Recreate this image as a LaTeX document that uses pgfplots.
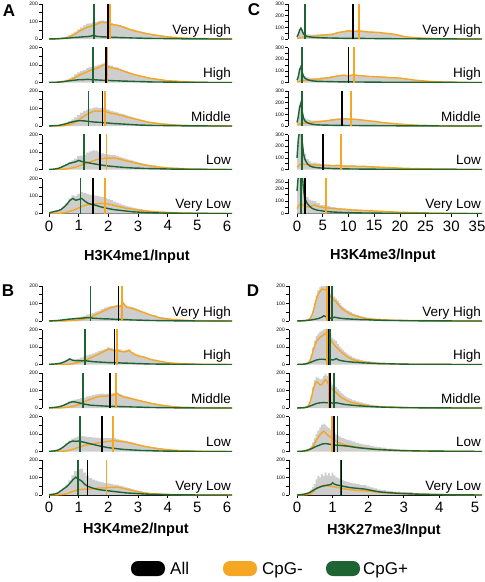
\documentclass[border=0pt]{standalone}
\usepackage{fontspec}
\setmainfont{Liberation Sans}
\usepackage{pgfplots}
\pgfplotsset{compat=1.18}
\usepackage{pgfplotstable}
\definecolor{corange}{RGB}{245,166,35}
\definecolor{cgreen}{RGB}{30,100,50}
\definecolor{cgray}{RGB}{206,206,206}

\pgfplotsset{
 rowax/.style={scale only axis, height=35pt, anchor=south west,
   axis x line*=bottom, axis y line*=left, axis line style={-, line width=0.6pt},
   tick align=outside, major tick length=3pt, tick style={line width=0.6pt, black},
   ymin=0, ytick={0,50,...,200}, yticklabels={0,,100,,200},
   yticklabel style={font=\fontsize{5}{5}\selectfont, inner sep=1pt},
   xtick=\empty, x axis line style={draw=none},
   /pgf/number format/assume math mode=true},
 axA/.style={rowax, width=190pt, xmin=-0.236, xmax=6.168, ymax=200},
 axC/.style={rowax, width=194pt, xmin=-1.75, xmax=35.97, ymax=300,
   ytick={0,50,...,300}, yticklabels={0,,100,,200,,300}},
 axCe/.style={rowax, width=194pt, xmin=-1.75, xmax=35.97, ymax=280,
   ytick={0,50,...,250}, yticklabels={0,,100,,200,250}},
 axD/.style={rowax, width=193pt, xmin=-0.225, xmax=5.197, ymax=200},
 botA/.style={xtick={0,...,6}, x axis line style={draw, shorten <=7pt, shorten >=5pt},
   xticklabel style={font=\fontsize{15}{15}\selectfont, yshift=-0.5pt}},
 botC/.style={xtick={0,5,...,35}, x axis line style={draw, shorten <=9pt, shorten >=5pt},
   xticklabel style={font=\fontsize{15}{15}\selectfont, yshift=-0.5pt}},
 botD/.style={xtick={0,...,5}, x axis line style={draw, shorten <=8pt, shorten >=7pt},
   xticklabel style={font=\fontsize{15}{15}\selectfont, yshift=-0.5pt}},
}

\newcommand\prow[7]{%
\begin{axis}[#1, at={#2}]
\addplot[const plot mark mid, fill=cgray, draw=none] table[x=x,y=g]{#3} \closedcycle;
\addplot[corange, line width=1.4pt] table[x=x,y=o]{#3};
\addplot[cgreen, line width=1.4pt] table[x=x,y=c]{#3};
\addplot[corange, line width=1.8pt] coordinates {(#6,0) (#6,400)};
\addplot[black, line width=1.8pt] coordinates {(#5,0) (#5,400)};
\addplot[cgreen, line width=1.8pt] coordinates {(#7,0) (#7,400)};
\node[anchor=base east, inner sep=0pt, font=\fontsize{13.5}{13.5}\selectfont] at (rel axis cs:0.995,0.14) {#4};
\end{axis}}

% ---------------- Panel A ----------------
\pgfplotstableread{
x g o c
0 0 0 0
0.1 1 0 1
0.2 1 0 1
0.3 3 1 2
0.4 5 2 3
0.5 8 4 4
0.6 14 8 5
0.7 22 14 6
0.8 32 22 8
0.9 42 30 9
1.0 55 42 10
1.1 66 52 12
1.2 78 60 13
1.3 88 68 14
1.4 90 72 16
1.5 96 78 22
1.6 98 84 15
1.7 104 92 14
1.8 106 96 12
1.9 104 94 12
2.0 100 90 11
2.1 92 84 10
2.2 86 80 9
2.3 84 78 9
2.4 80 74 8
2.5 74 68 8
2.6 68 62 7
2.7 60 56 7
2.8 56 50 6
2.9 52 46 6
3.0 46 42 5
3.1 42 38 5
3.2 38 34 4
3.3 34 30 4
3.4 30 28 4
3.5 26 24 3
3.75 20 18 3
4.0 14 12 2
4.25 10 9 2
4.5 7 6 1
4.75 5 4 1
5.0 3 3 1
5.5 1 1 0
6.2 0 0 0
}\tAa
\pgfplotstableread{
x g o c
0 0 0 0
0.1 1 0 1
0.2 1 0 1
0.3 3 1 2
0.4 6 2 4
0.5 10 4 6
0.6 16 8 8
0.7 24 14 10
0.8 34 22 12
0.9 46 30 14
1.0 58 40 16
1.1 66 48 16
1.2 72 54 17
1.3 82 62 18
1.4 88 70 17
1.5 92 76 16
1.6 96 80 15
1.7 102 88 14
1.8 108 96 13
1.9 112 104 12
2.0 100 88 12
2.1 96 84 11
2.2 90 80 10
2.3 86 78 10
2.4 80 72 9
2.5 74 66 8
2.6 66 60 8
2.7 60 54 7
2.8 54 48 7
2.9 48 44 6
3.0 44 40 6
3.1 40 36 5
3.2 36 32 5
3.3 32 28 4
3.4 28 24 4
3.5 24 22 3
3.75 18 16 3
4.0 12 10 2
4.25 9 8 2
4.5 6 5 1
4.75 3 3 1
5.0 2 1 1
5.5 1 0 0
6.2 0 0 0
}\tAb
\pgfplotstableread{
x g o c
0 0 0 0
0.1 1 0 1
0.2 2 0 2
0.3 4 1 3
0.4 7 1 6
0.5 12 2 10
0.6 18 4 14
0.7 28 8 20
0.8 38 14 24
0.9 50 22 28
1.0 64 34 30
1.1 76 46 30
1.2 86 58 29
1.3 94 68 27
1.4 100 76 25
1.5 104 84 23
1.6 106 86 22
1.7 104 84 21
1.8 104 86 20
1.9 98 82 18
2.0 94 78 17
2.1 86 72 15
2.2 82 70 14
2.3 78 66 13
2.4 72 62 12
2.5 68 58 11
2.6 62 52 10
2.7 56 48 9
2.8 52 44 8
2.9 46 40 7
3.0 42 36 6
3.1 36 32 5
3.2 32 28 5
3.3 28 24 4
3.4 24 21 4
3.5 21 18 3
3.75 15 13 3
4.0 10 9 2
4.25 7 6 2
4.5 5 4 1
4.75 3 3 1
5.0 2 2 1
5.5 1 1 0
6.2 0 0 0
}\tAc
\pgfplotstableread{
x g o c
0 0 0 0
0.1 1 0 1
0.2 3 0 3
0.3 6 0 6
0.4 13 1 12
0.5 22 2 20
0.6 32 4 28
0.7 44 6 36
0.8 52 10 40
0.9 62 14 44
1.0 76 20 52
1.1 80 26 46
1.2 84 32 42
1.3 96 38 40
1.4 104 44 36
1.5 110 50 33
1.6 108 56 30
1.7 100 60 27
1.8 92 62 25
1.9 88 64 22
2.0 86 66 20
2.1 82 64 18
2.2 84 66 17
2.3 78 62 15
2.4 72 58 14
2.5 66 54 12
2.6 62 50 11
2.7 56 46 10
2.8 52 42 9
2.9 46 38 8
3.0 42 34 8
3.1 38 30 7
3.2 34 27 6
3.3 30 24 6
3.4 26 21 5
3.5 23 18 5
3.75 17 13 4
4.0 12 9 3
4.25 9 7 2
4.5 7 5 2
4.75 4 3 1
5.0 3 2 1
5.5 1 1 0
6.2 0 0 0
}\tAd
\pgfplotstableread{
x g o c
0 2 0 2
0.1 8 0 8
0.2 12 0 12
0.3 17 1 16
0.4 24 2 22
0.5 40 4 36
0.6 60 8 52
0.7 86 12 74
0.8 104 18 86
0.9 100 24 76
1.0 112 32 80
1.1 124 40 86
1.2 118 46 72
1.3 112 50 60
1.4 106 52 54
1.5 104 54 50
1.6 102 56 46
1.7 98 58 40
1.8 94 58 36
1.9 88 56 32
2.0 82 54 28
2.1 76 50 25
2.2 68 46 22
2.3 62 42 20
2.4 56 38 18
2.5 50 34 16
2.6 44 30 14
2.7 40 28 12
2.8 35 25 10
2.9 31 22 9
3.0 28 20 8
3.1 25 18 7
3.2 22 16 6
3.3 19 14 5
3.4 17 12 5
3.5 15 11 4
3.75 11 8 3
4.0 8 6 2
4.25 6 4 2
4.5 4 3 1
4.75 3 2 1
5.0 2 1 1
5.5 1 1 0
6.2 0 0 0
}\tAe
% ---------------- Panel B ----------------
\pgfplotstableread{
x g o c
0 0 0 0
0.1 1 0 1
0.2 2 0 2
0.3 3 0 3
0.4 5 0 5
0.5 8 1 7
0.6 10 1 9
0.7 13 2 11
0.8 15 3 12
0.9 18 4 14
1.0 21 6 15
1.1 25 9 16
1.2 30 12 18
1.3 36 16 20
1.4 40 22 18
1.5 46 30 16
1.6 54 38 15
1.7 60 46 14
1.8 68 54 13
1.9 76 62 12
2.0 82 70 12
2.1 86 76 11
2.2 88 80 10
2.3 92 86 9
2.4 90 84 9
2.5 96 104 8
2.6 88 80 8
2.7 84 76 7
2.8 80 72 6
2.9 74 66 6
3.0 66 60 5
3.1 60 54 5
3.2 53 48 4
3.3 46 42 4
3.4 40 36 3
3.5 34 30 3
3.75 21 18 2
4.0 14 12 2
4.25 9 8 1
4.5 6 5 1
4.75 4 3 1
5.0 2 2 0
5.5 1 1 0
6.2 0 0 0
}\tBa
\pgfplotstableread{
x g o c
0 1 0 1
0.1 2 0 2
0.2 3 0 3
0.3 5 0 5
0.4 8 0 8
0.5 15 1 14
0.6 23 1 22
0.7 34 2 32
0.8 28 4 24
0.9 30 8 22
1.0 34 12 22
1.1 40 18 21
1.2 46 24 22
1.3 52 30 20
1.4 58 38 18
1.5 64 46 16
1.6 70 54 15
1.7 78 62 14
1.8 84 70 13
1.9 90 78 12
2.0 98 88 11
2.1 94 84 11
2.2 88 78 10
2.3 90 80 10
2.4 86 76 9
2.5 80 72 8
2.6 82 74 8
2.7 86 80 7
2.8 72 66 7
2.9 62 56 6
3.0 56 50 5
3.1 50 46 5
3.2 46 42 4
3.3 40 36 4
3.4 34 30 3
3.5 28 26 3
3.75 20 18 2
4.0 12 11 2
4.25 8 7 1
4.5 5 4 1
4.75 3 3 1
5.0 2 2 0
5.5 1 1 0
6.2 0 0 0
}\tBb
\pgfplotstableread{
x g o c
0 1 0 1
0.1 2 0 2
0.2 4 0 4
0.3 6 0 6
0.4 11 1 10
0.5 18 2 16
0.6 28 4 24
0.7 38 6 32
0.8 44 9 36
0.9 48 14 34
1.0 52 20 30
1.1 56 28 26
1.2 60 36 22
1.3 66 44 19
1.4 70 50 16
1.5 74 56 15
1.6 78 62 14
1.7 80 66 13
1.8 82 68 12
1.9 80 66 11
2.0 82 70 10
2.1 84 72 10
2.2 86 76 9
2.3 88 82 9
2.4 80 72 8
2.5 72 64 8
2.6 68 60 7
2.7 62 56 7
2.8 58 52 6
2.9 54 48 6
3.0 48 44 5
3.1 44 40 5
3.2 40 36 4
3.3 36 32 4
3.4 32 28 3
3.5 27 24 3
3.75 19 17 2
4.0 12 11 2
4.25 8 7 1
4.5 5 4 1
4.75 3 3 1
5.0 2 2 0
5.5 1 1 0
6.2 0 0 0
}\tBc
\pgfplotstableread{
x g o c
0 1 0 1
0.1 2 0 2
0.2 4 0 4
0.3 8 0 8
0.4 17 1 16
0.5 30 2 28
0.6 46 4 42
0.7 62 8 54
0.8 74 12 60
0.9 80 18 58
1.0 86 24 60
1.1 88 30 56
1.2 86 34 52
1.3 84 38 48
1.4 82 42 44
1.5 80 44 40
1.6 80 48 36
1.7 78 50 32
1.8 78 52 28
1.9 78 56 25
2.0 76 58 22
2.1 76 60 20
2.2 76 62 18
2.3 72 60 16
2.4 68 58 14
2.5 64 56 12
2.6 60 54 11
2.7 56 50 10
2.8 52 46 9
2.9 46 42 8
3.0 42 38 7
3.1 38 34 6
3.2 34 30 6
3.3 30 27 5
3.4 27 24 5
3.5 24 21 4
3.75 17 15 3
4.0 12 10 2
4.25 8 7 2
4.5 5 5 1
4.75 3 3 1
5.0 2 2 0
5.5 1 1 0
6.2 0 0 0
}\tBd
\pgfplotstableread{
x g o c
0 2 0 2
0.1 4 0 4
0.2 6 0 6
0.3 13 1 12
0.4 26 2 24
0.5 42 4 36
0.6 60 8 48
0.7 84 14 66
0.8 112 20 86
0.9 136 26 102
1.0 146 30 90
1.1 150 32 80
1.2 128 34 62
1.3 110 34 50
1.4 96 34 44
1.5 88 36 38
1.6 82 38 34
1.7 76 40 30
1.8 72 40 28
1.9 68 40 26
2.0 66 42 24
2.1 64 44 22
2.2 60 44 20
2.3 58 46 18
2.4 54 42 16
2.5 50 38 14
2.6 44 34 12
2.7 40 30 11
2.8 34 26 10
2.9 30 22 9
3.0 26 18 8
3.1 22 15 7
3.2 18 12 6
3.3 15 10 5
3.4 12 8 4
3.5 11 7 4
3.75 8 5 3
4.0 5 3 2
4.25 3 2 1
4.5 2 1 1
4.75 1 1 1
5.0 1 0 0
5.5 0 0 0
6.2 0 0 0
}\tBe
% ---------------- Panel C ----------------
\pgfplotstableread{
x g o c
0 25 5 20
0.25 48 8 40
0.5 85 10 75
0.75 104 12 92
1 84 14 70
1.25 60 15 45
1.5 48 16 32
2 40 18 22
2.5 38 20 18
3 37 22 15
3.5 37 24 13
4 40 28 12
5 42 32 10
6 45 36 9
7 48 40 8
8 62 55 7
9 68 62 6
10 76 70 6
11 70 64 6
12 75 70 5
13 69 64 5
14 64 60 4
15 62 58 4
16 59 56 3
17 53 50 3
18 49 46 3
19 42 40 2
20 32 30 2
21 22 20 2
22 17 15 2
23 14 12 2
24 10 9 1
25 8 7 1
26 6 5 1
27 5 4 1
28 4 3 1
29 3 2 1
30 3 2 1
32 1 1 0
34 0 0 0
36 0 0 0
}\tCa
\pgfplotstableread{
x g o c
0 25 5 20
0.25 58 8 50
0.5 120 10 110
0.75 146 12 134
1 104 14 90
1.25 71 16 55
1.5 56 18 38
2 45 20 25
2.5 40 22 18
3 38 24 14
3.5 38 26 12
4 38 28 10
5 43 34 9
6 48 40 8
7 55 48 7
8 62 56 6
9 68 62 6
10 63 58 5
11 70 64 5
12 64 60 4
13 60 56 4
14 55 52 3
15 53 50 3
16 51 48 3
17 48 46 2
18 44 42 2
19 42 40 2
20 40 38 2
21 33 32 1
22 27 26 1
23 21 20 1
24 17 16 1
25 13 12 1
26 10 9 1
27 8 7 1
28 6 5 1
29 5 4 1
30 4 3 1
32 1 1 0
34 0 0 0
36 0 0 0
}\tCb
\pgfplotstableread{
x g o c
0 40 10 30
0.25 94 14 80
0.5 178 18 160
0.75 215 20 195
1 152 22 130
1.25 94 24 70
1.5 71 26 45
2 56 28 28
2.5 50 30 20
3 47 32 15
3.5 46 34 12
4 46 36 10
5 48 40 8
6 53 46 7
7 58 52 6
8 63 58 5
9 67 62 5
10 64 60 4
11 62 58 4
12 58 54 4
13 53 50 3
14 47 44 3
15 43 40 3
16 36 34 2
17 30 28 2
18 26 24 2
19 22 20 2
20 17 16 1
21 14 13 1
22 11 10 1
23 9 8 1
24 7 6 1
25 6 5 1
26 5 4 1
27 4 3 1
28 2 2 0
29 2 2 0
30 1 1 0
32 0 0 0
34 0 0 0
36 0 0 0
}\tCc
\pgfplotstableread{
x g o c
0 120 20 100
0.25 280 30 250
0.5 380 40 340
0.75 385 45 340
1 298 48 250
1.25 186 46 140
1.5 134 44 90
2 92 42 50
2.5 70 40 30
3 60 38 22
3.5 58 40 18
4 53 38 15
5 48 36 12
6 44 34 10
7 40 32 8
8 41 34 7
9 36 30 6
10 33 28 5
11 34 30 4
12 30 26 4
13 31 28 3
14 27 24 3
15 25 22 3
16 22 20 2
17 20 18 2
18 18 16 2
19 16 14 2
20 14 12 2
21 12 10 2
22 10 9 1
23 9 8 1
24 8 7 1
25 7 6 1
26 6 5 1
27 5 4 1
28 5 4 1
29 4 3 1
30 4 3 1
32 2 2 0
34 1 1 0
36 0 0 0
}\tCd
\pgfplotstableread{
x g o c
0 220 40 180
0.25 355 55 300
0.5 410 70 340
0.75 418 78 340
1 394 74 320
1.25 265 65 200
1.5 178 58 120
2 132 52 80
2.5 111 56 55
3 104 64 40
3.5 100 68 32
4 84 58 26
5 68 48 20
6 59 44 15
7 52 40 12
8 46 36 10
9 42 34 8
10 37 30 7
11 34 28 6
12 31 26 5
13 28 24 4
14 26 22 4
15 23 20 3
16 21 18 3
17 18 16 2
18 16 14 2
19 14 12 2
20 12 10 2
21 11 9 2
22 9 8 1
23 8 7 1
24 7 6 1
25 6 5 1
26 4 4 0
27 3 3 0
28 3 3 0
29 2 2 0
30 2 2 0
32 1 1 0
34 0 0 0
36 0 0 0
}\tCe
% ---------------- Panel D ----------------
\pgfplotstableread{
x g o c
0 0 0 0
0.1 1 0 1
0.2 3 1 2
0.3 8 4 4
0.35 16 10 5
0.4 32 24 6
0.45 60 50 8
0.5 104 90 10
0.55 146 128 12
0.6 176 156 14
0.65 194 170 18
0.7 206 182 22
0.75 208 180 30
0.8 204 178 26
0.85 192 168 22
0.9 170 150 18
0.95 156 136 16
1.0 146 126 18
1.05 140 118 22
1.1 128 108 20
1.15 116 96 18
1.2 102 84 16
1.25 90 74 15
1.3 80 64 14
1.35 72 58 13
1.4 64 52 12
1.45 58 46 12
1.5 52 40 11
1.6 42 32 10
1.7 35 26 9
1.8 28 20 8
1.9 24 16 8
2.0 20 13 7
2.1 17 11 6
2.2 14 9 5
2.3 12 8 5
2.4 11 7 4
2.6 8 5 3
2.8 6 4 3
3.0 5 3 2
3.5 3 2 1
4.0 2 1 1
4.5 1 0 0
5.2 0 0 0
}\tDa
\pgfplotstableread{
x g o c
0 0 0 0
0.1 1 0 1
0.2 3 1 2
0.3 12 6 6
0.35 28 16 10
0.4 56 40 14
0.45 96 76 18
0.5 136 110 22
0.55 162 134 26
0.6 176 146 28
0.65 188 156 30
0.7 194 162 30
0.75 200 170 30
0.8 206 178 28
0.85 196 166 28
0.9 190 158 30
0.95 170 140 28
1.0 152 124 26
1.05 142 112 28
1.1 134 100 34
1.15 118 90 28
1.2 104 80 24
1.25 92 70 22
1.3 82 62 20
1.35 72 54 18
1.4 64 46 17
1.45 56 40 16
1.5 50 34 15
1.6 40 26 13
1.7 32 20 12
1.8 26 16 10
1.9 22 13 9
2.0 19 11 8
2.1 16 9 7
2.2 14 8 6
2.3 11 6 5
2.4 10 5 5
2.6 8 4 4
2.8 6 3 3
3.0 4 2 2
3.5 2 1 1
4.0 1 1 1
4.5 0 0 0
5.2 0 0 0
}\tDb
\pgfplotstableread{
x g o c
0 0 0 0
0.1 1 0 1
0.2 3 1 2
0.3 14 8 6
0.35 34 24 10
0.4 70 56 14
0.45 118 100 18
0.5 160 136 22
0.55 178 150 26
0.6 172 142 28
0.65 164 132 30
0.7 166 134 30
0.75 184 150 32
0.8 194 162 30
0.85 182 150 30
0.9 162 130 30
0.95 150 118 30
1.0 134 104 28
1.05 126 96 28
1.1 120 88 30
1.15 108 78 28
1.2 96 68 26
1.25 86 60 24
1.3 78 54 22
1.35 70 48 20
1.4 62 42 19
1.45 56 38 18
1.5 52 34 17
1.6 44 28 15
1.7 38 24 13
1.8 32 20 12
1.9 26 16 10
2.0 22 13 9
2.1 18 10 8
2.2 15 8 7
2.3 13 7 6
2.4 11 6 5
2.6 9 5 4
2.8 7 4 3
3.0 5 3 2
3.5 3 2 1
4.0 2 1 1
4.5 1 0 0
5.2 0 0 0
}\tDc
\pgfplotstableread{
x g o c
0 0 0 0
0.1 1 0 1
0.2 4 1 3
0.3 12 4 8
0.35 20 8 12
0.4 32 16 16
0.45 52 30 20
0.5 76 48 26
0.55 100 66 30
0.6 120 82 34
0.65 138 96 38
0.7 152 108 42
0.75 160 116 44
0.8 152 106 45
0.85 142 96 44
0.9 134 88 42
0.95 124 80 40
1.0 118 74 40
1.05 108 66 38
1.1 98 58 36
1.15 92 52 36
1.2 86 48 35
1.25 80 44 34
1.3 76 40 33
1.35 72 38 32
1.4 68 36 31
1.45 66 34 30
1.5 62 32 28
1.6 56 28 25
1.7 50 25 22
1.8 44 22 20
1.9 40 19 18
2.0 36 17 16
2.1 32 15 14
2.2 28 13 12
2.3 25 12 11
2.4 22 10 10
2.6 17 8 8
2.8 13 6 6
3.0 10 5 5
3.5 6 3 3
4.0 3 2 2
4.5 2 1 1
5.2 0 0 0
}\tDd
\pgfplotstableread{
x g o c
0 0 0 0
0.1 2 0 2
0.2 6 1 5
0.3 13 3 10
0.35 20 5 14
0.4 32 10 20
0.45 46 18 26
0.5 62 28 32
0.55 90 38 38
0.6 110 44 42
0.65 100 48 46
0.7 120 52 50
0.75 108 54 52
0.8 130 56 54
0.85 112 54 56
0.9 124 52 58
0.95 110 50 60
1.0 128 48 70
1.05 112 46 62
1.1 104 44 58
1.15 98 42 56
1.2 92 40 54
1.25 88 38 52
1.3 84 36 50
1.35 80 34 48
1.4 76 33 46
1.45 74 32 44
1.5 70 30 42
1.6 66 28 40
1.7 62 26 38
1.8 58 25 36
1.9 56 24 34
2.0 50 22 30
2.1 44 20 26
2.2 38 18 22
2.3 32 16 18
2.4 28 14 16
2.6 24 12 13
2.8 20 11 10
3.0 16 9 8
3.5 9 5 4
4.0 5 3 2
4.5 2 1 1
5.2 0 0 0
}\tDe

\begin{document}
\begin{tikzpicture}
\useasboundingbox (0,0) rectangle (485pt,-582pt);
% Panel A
\prow{axA}{(42pt,-39pt)}{\tAa}{Very High}{1.98}{2.06}{1.53}
\prow{axA}{(42pt,-82.5pt)}{\tAb}{High}{1.91}{1.97}{1.47}
\prow{axA}{(42pt,-126pt)}{\tAc}{Middle}{1.80}{1.89}{1.33}
\prow{axA}{(42pt,-169.5pt)}{\tAd}{Low}{1.72}{1.94}{1.19}
\prow{axA,botA}{(42pt,-213.5pt)}{\tAe}{Very Low}{1.47}{1.88}{1.06}
% Panel C
\prow{axC}{(288pt,-39pt)}{\tCa}{Very High}{10.95}{12.05}{1.56}
\prow{axC}{(288pt,-82.5pt)}{\tCb}{High}{10.0}{11.1}{0.9}
\prow{axC}{(288pt,-126pt)}{\tCc}{Middle}{8.7}{10.5}{0.9}
\prow{axC}{(288pt,-169.5pt)}{\tCd}{Low}{5.0}{8.6}{0.9}
\prow{axCe,botC}{(288pt,-213.5pt)}{\tCe}{Very Low}{1.5}{5.6}{0.7}
% Panel B
\prow{axA}{(42pt,-321pt)}{\tBa}{Very High}{2.34}{2.45}{1.40}
\prow{axA}{(42pt,-364.5pt)}{\tBb}{High}{2.21}{2.30}{1.22}
\prow{axA}{(42pt,-408pt)}{\tBc}{Middle}{2.06}{2.27}{1.15}
\prow{axA}{(42pt,-451.5pt)}{\tBd}{Low}{1.78}{2.15}{1.05}
\prow{axA,botA}{(42pt,-495pt)}{\tBe}{Very Low}{1.30}{1.94}{0.97}
% Panel D
\prow{axD}{(289pt,-321pt)}{\tDa}{Very High}{0.89}{0.85}{0.98}
\prow{axD}{(289pt,-364.5pt)}{\tDb}{High}{0.89}{0.85}{0.93}
\prow{axD}{(289pt,-408pt)}{\tDc}{Middle}{0.93}{0.90}{1.04}
\prow{axD}{(289pt,-451.5pt)}{\tDd}{Low}{1.05}{0.98}{1.14}
\prow{axD,botD}{(289pt,-495pt)}{\tDe}{Very Low}{1.23}{1.24}{1.22}
% titles
\node[font=\bfseries\fontsize{14.5}{14.5}\selectfont] at (137pt,-257pt) {H3K4me1/Input};
\node[font=\bfseries\fontsize{14.5}{14.5}\selectfont] at (383pt,-256pt) {H3K4me3/Input};
\node[font=\bfseries\fontsize{14.5}{14.5}\selectfont] at (136pt,-530pt) {H3K4me2/Input};
\node[font=\bfseries\fontsize{14.5}{14.5}\selectfont] at (384pt,-531pt) {H3K27me3/Input};
% panel letters
\node[font=\bfseries\fontsize{17}{17}\selectfont] at (9pt,-11pt) {A};
\node[font=\bfseries\fontsize{17}{17}\selectfont] at (8pt,-291pt) {B};
\node[font=\bfseries\fontsize{17}{17}\selectfont] at (254pt,-10pt) {C};
\node[font=\bfseries\fontsize{17}{17}\selectfont] at (253pt,-291pt) {D};
% legend
\fill[black, rounded corners=7pt] (131pt,-561pt) rectangle (165pt,-576pt);
\node[anchor=base west, inner sep=0pt, font=\fontsize{17}{17}\selectfont] at (170pt,-574pt) {All};
\fill[corange, rounded corners=7pt] (223pt,-561pt) rectangle (257pt,-576pt);
\node[anchor=base west, inner sep=0pt, font=\fontsize{17}{17}\selectfont] at (262pt,-574pt) {CpG-};
\fill[cgreen, rounded corners=7pt] (326pt,-561pt) rectangle (360pt,-576pt);
\node[anchor=base west, inner sep=0pt, font=\fontsize{17}{17}\selectfont] at (363pt,-574pt) {CpG+};
\end{tikzpicture}
\end{document}
